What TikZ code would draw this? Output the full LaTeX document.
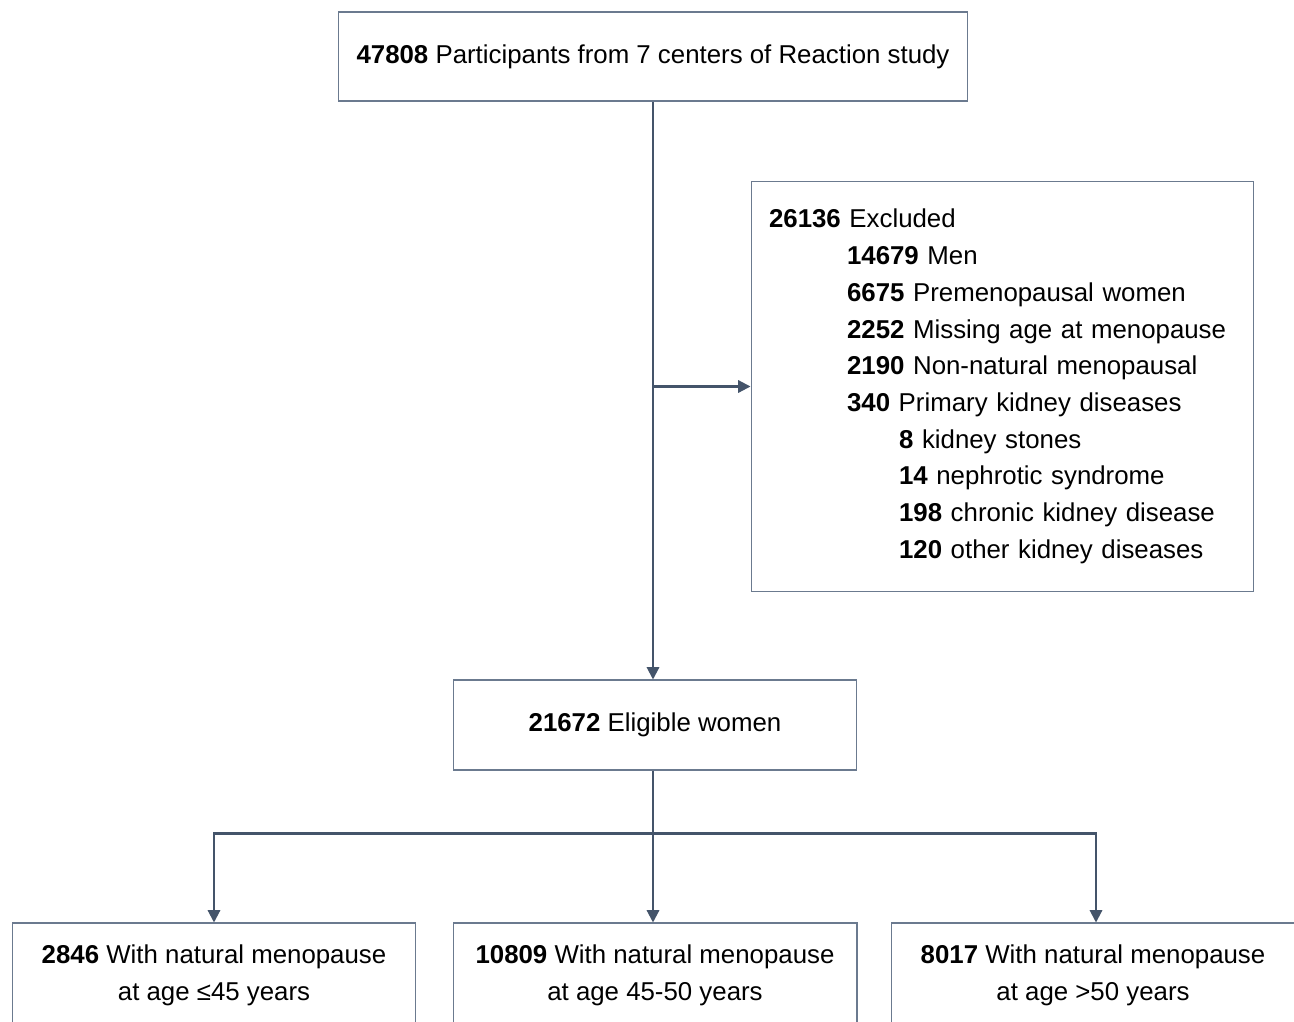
\documentclass[tikz,border=0pt]{standalone}
\usepackage{fontspec}
\setmainfont{Liberation Sans}
\usetikzlibrary{arrows.meta,positioning,calc}
\definecolor{linecol}{HTML}{44546A}
\definecolor{boxcol}{HTML}{6B7A8F}

\begin{document}
\begin{tikzpicture}[x=0.02cm,y=-0.02cm,
  box/.style={draw=boxcol,line width=0.6pt,align=center,inner sep=0pt,
    font=\fontsize{14.7}{20.9}\selectfont},
  link/.style={draw=linecol,line width=1.2pt},
  flow/.style={link,-{Triangle[length=7pt,width=7pt]}}]
\clip (0,0) rectangle (1294,1021);
\fill[white] (0,0) rectangle (1294,1021);
% boxes
\node[box,minimum width=12.6cm,minimum height=1.78cm] (top) at (653,56.5)
  {\textbf{47808} Participants from 7 centers of Reaction study};
\node[box,minimum width=10.06cm,minimum height=8.22cm,text width=9.34cm,align=left] (excl) at (1002.5,386.5)
  {\textbf{26136} Excluded\\
   \hspace*{1.56cm}\textbf{14679} Men\\
   \hspace*{1.56cm}\textbf{6675} Premenopausal women\\
   \hspace*{1.56cm}\textbf{2252} Missing age at menopause\\
   \hspace*{1.56cm}\textbf{2190} Non-natural menopausal\\
   \hspace*{1.56cm}\textbf{340} Primary kidney diseases\\
   \hspace*{2.6cm}\textbf{8} kidney stones\\
   \hspace*{2.6cm}\textbf{14} nephrotic syndrome\\
   \hspace*{2.6cm}\textbf{198} chronic kidney disease\\
   \hspace*{2.6cm}\textbf{120} other kidney diseases};
\node[box,minimum width=8.06cm,minimum height=1.8cm] (elig) at (655,725)
  {\textbf{21672} Eligible women};
\node[box,minimum width=8.08cm,minimum height=2.1cm] (grpA) at (214,975.5)
  {\textbf{2846} With natural menopause\\at age ≤45 years};
\node[box,minimum width=8.08cm,minimum height=2.1cm] (grpB) at (655,975.5)
  {\textbf{10809} With natural menopause\\at age 45-50 years};
\node[box,minimum width=8.08cm,minimum height=2.1cm] (grpC) at (1093,975.5)
  {\textbf{8017} With natural menopause\\at age >50 years};
% connectors
\draw[flow] (top.south) -- (top.south |- elig.north);
\draw[flow] (top.south |- excl.west) -- (excl.west);
\draw[link] (top.south |- elig.south) -- ++(0,63) coordinate (split);
\draw[flow] (split) -- (split |- grpB.north);
\draw[flow] (split) -| (grpA.north);
\draw[flow] (split) -| ([xshift=0.06cm]grpC.north);
\end{tikzpicture}
\end{document}
